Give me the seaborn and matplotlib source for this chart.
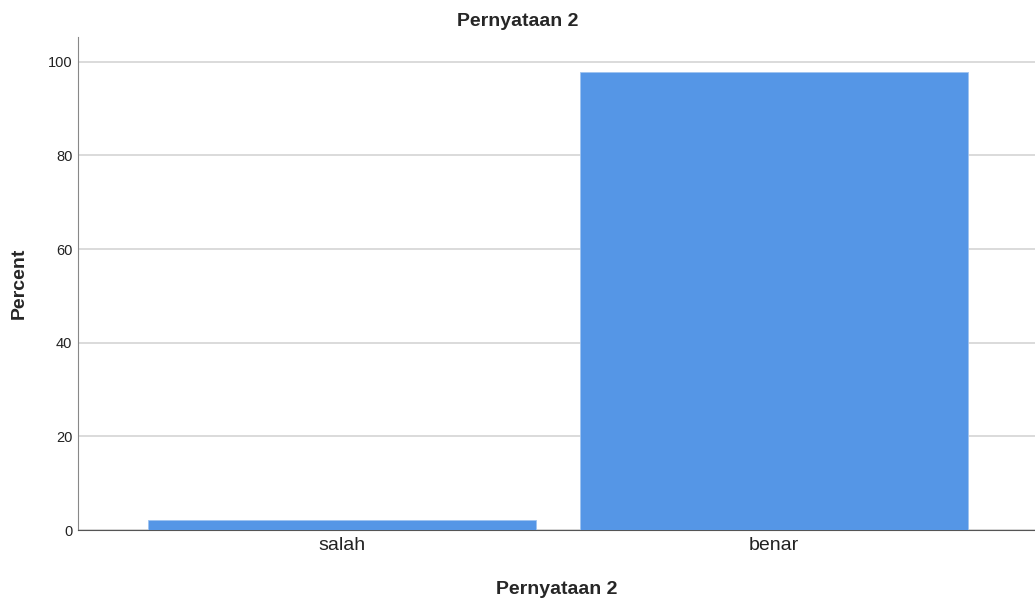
import matplotlib
matplotlib.use("Agg")
import matplotlib.pyplot as plt
import seaborn as sns
import pandas as pd

# data
categories = ["salah", "benar"]
percent = [2.2, 97.8]

df = pd.DataFrame({"Pernyataan 2": categories, "Percent": percent})

sns.set_style("white")
plt.rcParams["font.family"] = ["Liberation Sans", "DejaVu Sans"]

fig = plt.figure(figsize=(10.35, 6.06), dpi=100)
ax = fig.add_axes([78 / 1035, 76 / 606, 1 - 78 / 1035, (530 - 37) / 606])

ax.yaxis.grid(True, color="#d4d4d4", linewidth=1.2)
ax.set_axisbelow(True)
sns.barplot(data=df, x="Pernyataan 2", y="Percent", color="#5596e6",
            saturation=1, width=0.898, edgecolor="#9fc3f0", linewidth=0.6,
            ax=ax, zorder=3)

ax.set_xlim(-0.611, 1.604)
ax.set_ylim(0, 105.3)
ax.set_yticks([0, 20, 40, 60, 80, 100])
ax.tick_params(axis="y", labelsize=10.5, length=0, pad=4, colors="#222222")
ax.tick_params(axis="x", labelsize=14, length=0, pad=5, colors="#222222")

for s in ["top", "right"]:
    ax.spines[s].set_visible(False)
ax.spines["left"].set_color("#888888")
ax.spines["bottom"].set_color("#555555")

ax.set_xlabel("Pernyataan 2", fontsize=14, fontweight="bold", va="top")
ax.xaxis.set_label_coords(0.5, -(581 - 530) / 493)
ax.set_ylabel("Percent", fontsize=14, fontweight="bold")
ax.yaxis.set_label_coords(-(78 - 28) / 957, 0.5)
fig.suptitle("Pernyataan 2", x=0.5, y=1 - 21 / 606, va="center",
             fontsize=14, fontweight="bold")

fig.savefig("out.png", dpi=100)
